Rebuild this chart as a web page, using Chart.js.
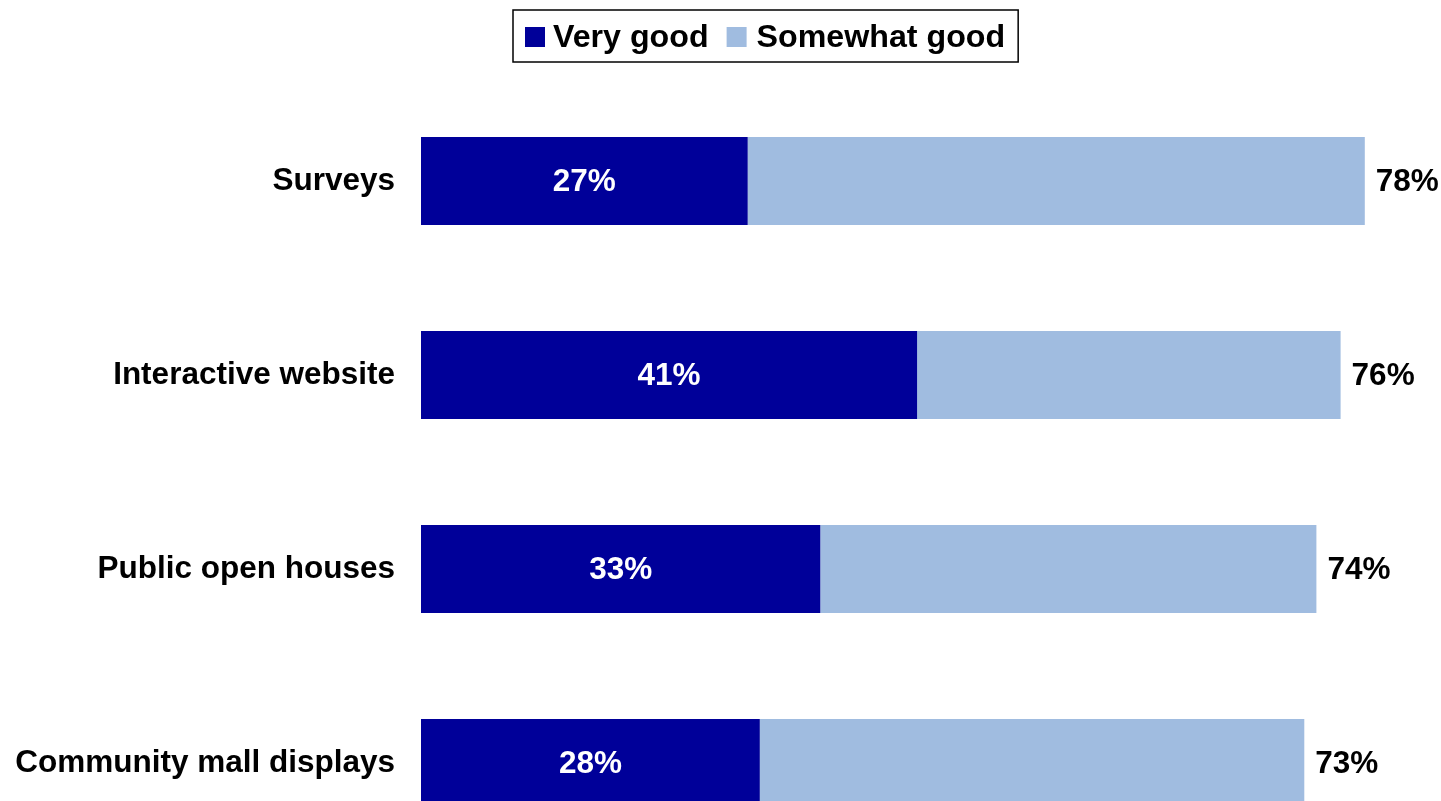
<!DOCTYPE html>
<html>
<head>
<meta charset="utf-8">
<title>Ratings of outreach methods</title>
<script src="https://cdn.jsdelivr.net/npm/chart.js@4/dist/chart.umd.min.js"></script>
<style>
  html, body { margin: 0; padding: 0; background: #ffffff; overflow: hidden; }
  #wrap { width: 1441px; height: 870px; }
</style>
</head>
<body>
<div id="wrap"><canvas id="chart" width="1441" height="870"></canvas></div>
<script>
// Outreach methods and the share rating each one "very good" / "somewhat good" (%)
const categories = ['Surveys', 'Interactive website', 'Public open houses', 'Community mall displays'];
const veryGood = [27, 41, 33, 28];
const totalGood = [78, 76, 74, 73];
const somewhatGood = totalGood.map((t, i) => t - veryGood[i]);
const seriesNames = ['Very good', 'Somewhat good'];

const FONT = '"Liberation Sans", Arial, Helvetica, sans-serif';
const DARK = '#000099';
const LIGHT = '#A0BCE0';

// Boxed legend across the top
const boxedLegend = {
  id: 'boxedLegend',
  afterDraw(chart) {
    const ctx = chart.ctx;
    ctx.save();
    ctx.font = 'bold 32.2px ' + FONT;
    ctx.textBaseline = 'middle';
    ctx.textAlign = 'left';
    const left = 513, top = 10, height = 52;
    const cy = top + height / 2 + 1;
    const sq = 20;
    const gapAfterBox = [8, 10];
    let x = left + 12;
    chart.data.datasets.forEach((ds, i) => {
      ctx.fillStyle = ds.backgroundColor;
      ctx.fillRect(x, cy - sq / 2, sq, sq);
      x += sq + gapAfterBox[i];
      ctx.fillStyle = '#000000';
      ctx.fillText(ds.label, x, cy + 1);
      x += ctx.measureText(ds.label).width;
      if (i < chart.data.datasets.length - 1) x += 18;
    });
    const right = x + 13;
    ctx.strokeStyle = '#000000';
    ctx.lineWidth = 1.5;
    ctx.strokeRect(left, top, right - left, height);
    ctx.restore();
  }
};

// Value labels: first segment inside (white), totals after the bar end
const valueLabels = {
  id: 'valueLabels',
  afterDatasetsDraw(chart) {
    const ctx = chart.ctx;
    ctx.save();
    ctx.font = 'bold 31.5px ' + FONT;
    ctx.textBaseline = 'middle';
    const inner = chart.getDatasetMeta(0).data;
    const outer = chart.getDatasetMeta(1).data;
    inner.forEach((bar, i) => {
      ctx.fillStyle = '#ffffff';
      ctx.textAlign = 'center';
      ctx.fillText(veryGood[i] + '%', (bar.x + bar.base) / 2, bar.y + 1);
    });
    outer.forEach((bar, i) => {
      ctx.fillStyle = '#000000';
      ctx.textAlign = 'left';
      ctx.fillText(totalGood[i] + '%', bar.x + 11, bar.y + 1);
    });
    ctx.restore();
  }
};

new Chart(document.getElementById('chart'), {
  type: 'bar',
  data: {
    labels: categories,
    datasets: [
      { label: seriesNames[0], data: veryGood, backgroundColor: DARK },
      { label: seriesNames[1], data: somewhatGood, backgroundColor: LIGHT }
    ]
  },
  options: {
    indexAxis: 'y',
    responsive: false,
    devicePixelRatio: 1,
    animation: false,
    layout: { padding: { top: 84, bottom: 10, left: 0, right: 3.6 } },
    datasets: { bar: { categoryPercentage: 1.0, barPercentage: 0.454, borderWidth: 0 } },
    scales: {
      x: {
        stacked: true,
        display: false,
        min: 0,
        max: 84
      },
      y: {
        stacked: true,
        grid: { display: false, drawTicks: false },
        border: { display: false },
        ticks: {
          color: '#000000',
          padding: 26,
          font: { family: FONT, size: 31.5, weight: 'bold' }
        },
        afterFit(scale) {
          scale.width = 421;
          scale.paddingTop = 0;
          scale.paddingBottom = 0;
        }
      }
    },
    plugins: {
      legend: { display: false },
      tooltip: { enabled: false }
    }
  },
  plugins: [boxedLegend, valueLabels]
});
</script>
</body>
</html>
